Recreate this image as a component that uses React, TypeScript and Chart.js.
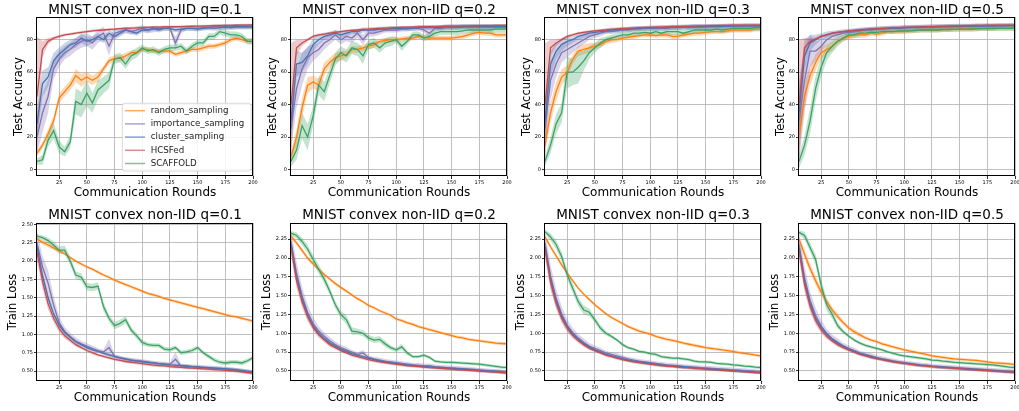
import React, { useEffect, useRef } from "react";
import { Chart, registerables } from "chart.js";

Chart.register(...registerables);
Chart.defaults.font.family = "'DejaVu Sans', 'Liberation Sans', sans-serif";
Chart.defaults.color = "#000";

const ROUNDS = [5, 10, 15, 20, 25, 30, 35, 40, 45, 50, 55, 60, 65, 70, 75, 80, 85, 90, 95, 100, 105, 110, 115, 120, 125, 130, 135, 140, 145, 150, 155, 160, 165, 170, 175, 180, 185, 190, 195, 200];

const SERIES_NAMES = ["random_sampling", "importance_sampling", "cluster_sampling", "HCSFed", "SCAFFOLD"];
const SERIES_COLORS = ["#ff7f0e", "#8172b3", "#4c72b0", "#c44e52", "#3ba363"];

const X_TICKS = [25, 50, 75, 100, 125, 150, 175, 200];
const ACC_TICKS = [0, 20, 40, 60, 80];
const LOSS_TICKS_Q01 = [0.5, 0.75, 1.0, 1.25, 1.5, 1.75, 2.0, 2.25, 2.5];
const LOSS_TICKS = [0.5, 0.75, 1.0, 1.25, 1.5, 1.75, 2.0, 2.25];

// ---------- Test accuracy, q=0.1 ----------
const ACC_Q01_RANDOM = [10, 15, 22, 30, 44, 48, 52, 58, 55, 57, 55, 57, 62, 67, 68.5, 68.5, 70, 72, 72, 74, 74, 73, 73, 73, 73, 71, 72, 73, 74, 74, 75, 76, 76, 77, 78, 80, 81, 80, 79, 79];
const ACC_Q01_IMPORTANCE = [20, 35, 45, 62, 68, 72, 74, 77, 79, 80, 78, 82, 84, 76, 84, 85, 86, 85, 86, 87, 86, 86.5, 87, 87, 87, 78, 86, 87, 87, 87, 87.5, 87.5, 88, 88, 87.5, 88, 88, 88, 88, 88];
const ACC_Q01_CLUSTER = [28, 53, 57, 67, 71, 74, 77, 78, 81, 79, 80, 82, 80, 84, 82, 84, 86, 85, 84, 86, 86, 87, 86, 87, 87, 86, 86.5, 87, 87, 86.5, 87, 87.5, 87, 87.5, 88, 87.5, 88, 88, 88, 88];
const ACC_Q01_HCSFED = [45, 74, 79, 81, 82, 83, 83.5, 84, 84.5, 85, 85.5, 85.8, 86, 86.3, 86.5, 86.8, 87, 87.2, 87.3, 87.5, 87.6, 87.7, 87.8, 87.9, 88, 88, 88.1, 88.2, 88.3, 88.4, 88.4, 88.5, 88.6, 88.7, 88.8, 88.8, 88.9, 89, 89, 89.1];
const ACC_Q01_SCAFFOLD = [5, 6, 18, 24, 14, 11, 17, 42, 40, 47, 41, 49, 52, 55, 68, 69, 65, 70, 72, 75, 73, 74, 72, 74, 75, 75, 76, 73, 76, 78, 78, 82, 82, 85, 84, 83, 83, 82, 79, 79];
const ACC_Q01_RANDOM_SD = [2, 2, 3, 3, 3, 3, 3, 4, 4, 3, 3, 3, 2, 2, 2, 2, 2, 1.5, 1.5, 1.5, 1.5, 1.5, 1.5, 1.5, 1.5, 1.5, 1.5, 1.5, 1.5, 1.5, 1.5, 1.5, 1.5, 1.5, 1.5, 1.5, 1.5, 1.5, 1.5, 1.5];
const ACC_Q01_IMPORTANCE_SD = [10, 12, 10, 6, 5, 4, 4, 4, 4, 4, 4, 4, 4, 6, 3, 2, 2, 2, 2, 2, 2, 2, 1.5, 1.5, 1.5, 4, 2, 1.5, 1.5, 1.5, 1.5, 1.5, 1.5, 1.5, 1.5, 1.5, 1.5, 1.5, 1.5, 1.5];
const ACC_Q01_CLUSTER_SD = [8, 8, 6, 5, 4, 4, 3, 3, 3, 3, 2, 2, 2, 2, 2, 2, 1.5, 1.5, 1.5, 1.5, 1.5, 1.5, 1.5, 1.5, 1.5, 1.5, 1.5, 1.5, 1.5, 1.5, 1.5, 1.5, 1.5, 1.5, 1.5, 1.5, 1.5, 1.5, 1.5, 1.5];
const ACC_Q01_HCSFED_SD = [37, 5, 2, 1, 1, 0.8, 0.8, 0.8, 0.8, 0.8, 0.8, 0.8, 0.8, 0.8, 0.8, 0.8, 0.8, 0.8, 0.8, 0.8, 0.8, 0.8, 0.8, 0.8, 0.8, 0.8, 0.8, 0.8, 0.8, 0.8, 0.8, 0.8, 0.8, 0.8, 0.8, 0.8, 0.8, 0.8, 0.8, 0.8];
const ACC_Q01_SCAFFOLD_SD = [2, 3, 4, 5, 4, 3, 4, 8, 8, 8, 6, 6, 5, 5, 3, 3, 3, 3, 3, 2, 2, 2, 2, 2, 2, 2, 2, 2, 2, 2, 2, 2, 2, 2, 2, 2, 2, 2, 2, 2];

// ---------- Test accuracy, q=0.2 ----------
const ACC_Q02_RANDOM = [8, 20, 38, 52, 54, 52, 62, 66, 69, 70, 71, 74, 74, 75, 76, 77, 79, 79.5, 80, 80, 80.5, 81, 81, 82, 81.5, 81, 81, 81, 81, 81, 81.5, 82, 83, 84, 84.5, 84, 84, 83, 83, 83];
const ACC_Q02_IMPORTANCE = [25, 50, 62, 69, 72, 74, 78, 80, 83, 80, 82, 81, 84, 80, 84, 84, 85, 86, 86, 86, 86.5, 86.5, 87, 87, 86, 84, 87, 87, 87.5, 87.5, 87.5, 88, 88, 88, 88, 88, 88, 88, 88, 88];
const ACC_Q02_CLUSTER = [30, 65, 66, 70, 77, 80, 82, 83, 84, 83, 84, 85, 85, 86, 86, 86, 86.5, 86.5, 87, 87, 87, 87, 87, 87.5, 87.5, 87.5, 87.5, 87.5, 88, 88, 88, 88, 88, 88, 88, 88, 88, 88, 88, 88];
const ACC_Q02_HCSFED = [40, 75, 78, 80, 82, 83, 83.5, 84, 84.5, 85, 85.5, 85.8, 86, 86.3, 86.5, 86.8, 87, 87.2, 87.3, 87.5, 87.6, 87.7, 87.8, 87.9, 88, 88, 88.1, 88.2, 88.3, 88.4, 88.4, 88.5, 88.5, 88.6, 88.6, 88.7, 88.7, 88.8, 88.8, 88.8];
const ACC_Q02_SCAFFOLD = [5, 12, 27, 20, 33, 52, 48, 58, 68, 72, 70, 75, 74, 70, 77, 78, 75, 78, 79, 80, 76, 79, 83, 83, 81, 82, 84, 85, 85, 85, 85, 85.5, 86, 86, 86, 86, 86, 86.5, 86.5, 86.5];
const ACC_Q02_RANDOM_SD = [3, 5, 6, 5, 4, 4, 4, 3, 3, 3, 2, 2, 2, 2, 2, 2, 1.5, 1.5, 1.5, 1.5, 1.5, 1.5, 1.5, 1.5, 1.5, 1.5, 1.5, 1.5, 1.5, 1.5, 1.5, 1.5, 1.5, 1.5, 1.5, 1.5, 1.5, 1.5, 1.5, 1.5];
const ACC_Q02_IMPORTANCE_SD = [12, 12, 10, 7, 5, 4, 4, 3, 3, 3, 3, 3, 3, 3, 2, 2, 2, 1.5, 1.5, 1.5, 1.5, 1.5, 1.5, 1.5, 1.5, 3, 1.5, 1.5, 1.5, 1.5, 1.5, 1.5, 1.5, 1.5, 1.5, 1.5, 1.5, 1.5, 1.5, 1.5];
const ACC_Q02_CLUSTER_SD = [10, 8, 6, 5, 4, 3, 2, 2, 2, 2, 2, 1.5, 1.5, 1.5, 1.5, 1.5, 1.5, 1.5, 1.5, 1.5, 1.5, 1.5, 1.5, 1.5, 1.5, 1.5, 1.5, 1.5, 1.5, 1.5, 1.5, 1.5, 1.5, 1.5, 1.5, 1.5, 1.5, 1.5, 1.5, 1.5];
const ACC_Q02_HCSFED_SD = [38, 5, 2, 1, 1, 0.8, 0.8, 0.8, 0.8, 0.8, 0.8, 0.8, 0.8, 0.8, 0.8, 0.8, 0.8, 0.8, 0.8, 0.8, 0.8, 0.8, 0.8, 0.8, 0.8, 0.8, 0.8, 0.8, 0.8, 0.8, 0.8, 0.8, 0.8, 0.8, 0.8, 0.8, 0.8, 0.8, 0.8, 0.8];
const ACC_Q02_SCAFFOLD_SD = [3, 6, 8, 8, 6, 6, 6, 5, 4, 4, 4, 4, 4, 5, 3, 3, 3, 3, 3, 2, 3, 2, 2, 2, 2, 2, 2, 2, 2, 2, 2, 2, 2, 2, 2, 2, 2, 2, 2, 2];

// ---------- Test accuracy, q=0.3 ----------
const ACC_Q03_RANDOM = [15, 35, 48, 57, 60, 68, 73, 74, 75, 76, 77, 79, 80, 80, 81, 81.5, 82, 82.5, 83, 83, 82.5, 83, 83, 82, 82, 83, 83.5, 84, 84, 84.5, 85, 85, 85, 85.5, 86, 86, 86, 86, 86.5, 86.5];
const ACC_Q03_IMPORTANCE = [25, 55, 65, 72, 74, 76, 78, 80, 82, 83, 84, 85, 85, 85.5, 86, 86, 86.5, 86.5, 87, 87, 87, 87, 87, 87.5, 87.5, 87.5, 87.5, 88, 88, 88, 88, 88, 88, 88.5, 88.5, 88.5, 88.5, 88.5, 88.5, 88.5];
const ACC_Q03_CLUSTER = [30, 65, 73, 77, 79, 80, 82, 83, 84, 84.5, 85, 85.5, 86, 86, 86.5, 86.5, 86.8, 87, 87, 87.2, 87.4, 87.5, 87.6, 87.7, 87.8, 87.9, 88, 88, 88, 88.1, 88.2, 88.2, 88.3, 88.3, 88.4, 88.4, 88.5, 88.5, 88.5, 88.5];
const ACC_Q03_HCSFED = [40, 75, 78, 80, 82, 83, 84, 84.5, 85, 85.5, 85.8, 86, 86.3, 86.6, 86.8, 87, 87.2, 87.4, 87.5, 87.6, 87.7, 87.8, 87.9, 88, 88.1, 88.2, 88.3, 88.4, 88.5, 88.5, 88.6, 88.7, 88.8, 88.8, 88.9, 88.9, 89, 89, 89, 89];
const ACC_Q03_SCAFFOLD = [5, 15, 28, 35, 60, 60, 63, 67, 72, 75, 78, 80, 81, 82, 83, 83, 84, 84, 84.5, 84, 85, 84, 85, 85, 85, 84, 85, 86, 86, 86, 86, 86.5, 86, 86.5, 87, 87, 87, 87, 87.5, 87.5];
const ACC_Q03_RANDOM_SD = [5, 6, 6, 5, 4, 3, 3, 3, 3, 2, 2, 2, 2, 1.5, 1.5, 1.5, 1.5, 1.5, 1.5, 1.5, 1.5, 1.5, 1.5, 1.5, 1.5, 1.5, 1.5, 1.5, 1.5, 1.5, 1.5, 1.5, 1.5, 1.5, 1.5, 1.5, 1.5, 1.5, 1.5, 1.5];
const ACC_Q03_IMPORTANCE_SD = [12, 12, 8, 6, 5, 4, 3, 3, 2, 2, 2, 1.5, 1.5, 1.5, 1.5, 1.5, 1.5, 1.5, 1.5, 1.5, 1.5, 1.5, 1.5, 1.5, 1.5, 1.5, 1.5, 1.5, 1.5, 1.5, 1.5, 1.5, 1.5, 1.5, 1.5, 1.5, 1.5, 1.5, 1.5, 1.5];
const ACC_Q03_CLUSTER_SD = [12, 8, 5, 4, 3, 2, 2, 2, 1.5, 1.5, 1.5, 1.5, 1.5, 1.5, 1.5, 1.5, 1.5, 1.5, 1.5, 1.5, 1.5, 1.5, 1.5, 1.5, 1.5, 1.5, 1.5, 1.5, 1.5, 1.5, 1.5, 1.5, 1.5, 1.5, 1.5, 1.5, 1.5, 1.5, 1.5, 1.5];
const ACC_Q03_HCSFED_SD = [38, 5, 2, 1, 1, 0.8, 0.8, 0.8, 0.8, 0.8, 0.8, 0.8, 0.8, 0.8, 0.8, 0.8, 0.8, 0.8, 0.8, 0.8, 0.8, 0.8, 0.8, 0.8, 0.8, 0.8, 0.8, 0.8, 0.8, 0.8, 0.8, 0.8, 0.8, 0.8, 0.8, 0.8, 0.8, 0.8, 0.8, 0.8];
const ACC_Q03_SCAFFOLD_SD = [3, 5, 6, 6, 10, 8, 10, 6, 4, 3, 3, 2, 2, 2, 2, 2, 2, 2, 2, 2, 2, 2, 2, 2, 2, 2, 2, 2, 2, 2, 2, 2, 2, 2, 2, 2, 2, 2, 2, 2];

// ---------- Test accuracy, q=0.5 ----------
const ACC_Q05_RANDOM = [20, 45, 58, 66, 72, 74, 76, 79, 81, 82, 83, 83, 83, 84, 83.5, 84, 85, 85, 85, 85, 85.5, 85.5, 86, 86, 86, 86, 86.2, 86.3, 86.4, 86.5, 86.5, 86.6, 86.7, 86.8, 86.8, 86.9, 87, 87, 87, 87];
const ACC_Q05_IMPORTANCE = [30, 55, 73, 73, 76, 80, 82, 83, 84, 84.5, 85, 85.5, 86, 86, 86.5, 86.5, 86.8, 87, 87, 87.2, 87.4, 87.5, 87.6, 87.7, 87.8, 87.9, 88, 88, 88, 88.1, 88.2, 88.2, 88.3, 88.3, 88.4, 88.4, 88.5, 88.5, 88.5, 88.5];
const ACC_Q05_CLUSTER = [35, 70, 78, 80, 82, 83, 84, 84.5, 85, 85.3, 85.6, 86, 86.2, 86.5, 86.7, 86.9, 87, 87.2, 87.3, 87.5, 87.6, 87.7, 87.8, 87.9, 88, 88, 88.1, 88.2, 88.3, 88.3, 88.4, 88.4, 88.5, 88.5, 88.6, 88.6, 88.7, 88.7, 88.8, 88.8];
const ACC_Q05_HCSFED = [40, 75, 79, 80.5, 82, 83, 84, 84.5, 85, 85.5, 85.8, 86, 86.3, 86.6, 86.8, 87, 87.2, 87.4, 87.5, 87.6, 87.7, 87.8, 87.9, 88, 88.1, 88.2, 88.3, 88.4, 88.5, 88.5, 88.6, 88.7, 88.8, 88.8, 88.9, 88.9, 89, 89, 89, 89];
const ACC_Q05_SCAFFOLD = [5, 15, 30, 50, 63, 72, 76, 79, 81, 83, 83, 84, 84, 84.5, 84.5, 85, 85, 85, 85.5, 85.5, 85.5, 85.8, 86, 86, 86, 86, 86.2, 86.3, 86.4, 86.5, 86.5, 86.6, 86.7, 86.8, 86.8, 86.9, 87, 87, 87, 87];
const ACC_Q05_RANDOM_SD = [8, 8, 6, 5, 4, 3, 3, 2, 2, 2, 2, 2, 1.5, 1.5, 1.5, 1.5, 1.5, 1.5, 1.5, 1.5, 1.5, 1.5, 1.5, 1.5, 1.5, 1.5, 1.5, 1.5, 1.5, 1.5, 1.5, 1.5, 1.5, 1.5, 1.5, 1.5, 1.5, 1.5, 1.5, 1.5];
const ACC_Q05_IMPORTANCE_SD = [25, 20, 10, 6, 4, 3, 2, 2, 1.5, 1.5, 1.5, 1.5, 1.5, 1.5, 1.5, 1.5, 1.5, 1.5, 1.5, 1.5, 1.5, 1.5, 1.5, 1.5, 1.5, 1.5, 1.5, 1.5, 1.5, 1.5, 1.5, 1.5, 1.5, 1.5, 1.5, 1.5, 1.5, 1.5, 1.5, 1.5];
const ACC_Q05_CLUSTER_SD = [15, 10, 5, 3, 2, 2, 1.5, 1.5, 1.5, 1.5, 1.5, 1.5, 1.5, 1.5, 1.5, 1.5, 1.5, 1.5, 1.5, 1.5, 1.5, 1.5, 1.5, 1.5, 1.5, 1.5, 1.5, 1.5, 1.5, 1.5, 1.5, 1.5, 1.5, 1.5, 1.5, 1.5, 1.5, 1.5, 1.5, 1.5];
const ACC_Q05_HCSFED_SD = [40, 6, 2, 1, 1, 0.8, 0.8, 0.8, 0.8, 0.8, 0.8, 0.8, 0.8, 0.8, 0.8, 0.8, 0.8, 0.8, 0.8, 0.8, 0.8, 0.8, 0.8, 0.8, 0.8, 0.8, 0.8, 0.8, 0.8, 0.8, 0.8, 0.8, 0.8, 0.8, 0.8, 0.8, 0.8, 0.8, 0.8, 0.8];
const ACC_Q05_SCAFFOLD_SD = [4, 6, 8, 8, 6, 5, 4, 3, 2, 2, 2, 1.5, 1.5, 1.5, 1.5, 1.5, 1.5, 1.5, 1.5, 1.5, 1.5, 1.5, 1.5, 1.5, 1.5, 1.5, 1.5, 1.5, 1.5, 1.5, 1.5, 1.5, 1.5, 1.5, 1.5, 1.5, 1.5, 1.5, 1.5, 1.5];

// ---------- Train loss, q=0.1 ----------
const LOSS_Q01_RANDOM = [2.30, 2.26, 2.22, 2.18, 2.14, 2.10, 2.05, 2.00, 1.96, 1.92, 1.89, 1.85, 1.81, 1.78, 1.74, 1.71, 1.68, 1.65, 1.62, 1.59, 1.56, 1.54, 1.52, 1.49, 1.47, 1.45, 1.43, 1.41, 1.39, 1.37, 1.35, 1.33, 1.31, 1.29, 1.27, 1.25, 1.24, 1.22, 1.20, 1.18];
const LOSS_Q01_IMPORTANCE = [2.25, 1.92, 1.70, 1.40, 1.16, 1.04, 0.97, 0.91, 0.87, 0.84, 0.81, 0.78, 0.76, 0.82, 0.70, 0.68, 0.66, 0.65, 0.64, 0.63, 0.62, 0.61, 0.60, 0.595, 0.59, 0.66, 0.57, 0.565, 0.56, 0.555, 0.55, 0.545, 0.54, 0.535, 0.53, 0.52, 0.51, 0.50, 0.49, 0.48];
const LOSS_Q01_CLUSTER = [2.20, 1.80, 1.50, 1.28, 1.13, 1.03, 0.96, 0.90, 0.86, 0.82, 0.79, 0.77, 0.74, 0.72, 0.70, 0.68, 0.665, 0.65, 0.64, 0.63, 0.62, 0.61, 0.60, 0.595, 0.585, 0.58, 0.575, 0.57, 0.56, 0.555, 0.55, 0.545, 0.54, 0.535, 0.53, 0.525, 0.52, 0.51, 0.50, 0.49];
const LOSS_Q01_HCSFED = [2.12, 1.72, 1.42, 1.22, 1.08, 0.98, 0.92, 0.86, 0.82, 0.78, 0.75, 0.72, 0.70, 0.68, 0.66, 0.645, 0.63, 0.62, 0.61, 0.60, 0.59, 0.58, 0.575, 0.57, 0.56, 0.555, 0.55, 0.545, 0.54, 0.535, 0.53, 0.525, 0.52, 0.515, 0.51, 0.505, 0.50, 0.49, 0.48, 0.47];
const LOSS_Q01_SCAFFOLD = [2.34, 2.32, 2.28, 2.22, 2.15, 2.15, 2.00, 1.81, 1.78, 1.65, 1.64, 1.66, 1.38, 1.22, 1.12, 1.15, 1.20, 1.06, 0.98, 0.89, 0.86, 0.85, 0.85, 0.80, 0.79, 0.82, 0.75, 0.76, 0.78, 0.82, 0.75, 0.70, 0.65, 0.62, 0.61, 0.62, 0.62, 0.61, 0.64, 0.68];
const LOSS_Q01_IMPORTANCE_SD = [0.15, 0.15, 0.18, 0.12, 0.08, 0.06, 0.05, 0.05, 0.04, 0.04, 0.04, 0.03, 0.03, 0.12, 0.03, 0.03, 0.03, 0.03, 0.03, 0.03, 0.03, 0.03, 0.03, 0.03, 0.03, 0.10, 0.03, 0.03, 0.03, 0.03, 0.03, 0.03, 0.03, 0.03, 0.03, 0.03, 0.03, 0.03, 0.03, 0.03];
const LOSS_Q01_SCAFFOLD_SD = [0.03, 0.03, 0.04, 0.05, 0.05, 0.06, 0.06, 0.05, 0.05, 0.05, 0.05, 0.05, 0.06, 0.05, 0.05, 0.05, 0.05, 0.04, 0.04, 0.04, 0.03, 0.03, 0.03, 0.03, 0.03, 0.03, 0.03, 0.03, 0.03, 0.03, 0.03, 0.03, 0.03, 0.03, 0.03, 0.03, 0.03, 0.03, 0.03, 0.03];

// ---------- Train loss, q=0.2 ----------
const LOSS_Q02_RANDOM = [2.29, 2.20, 2.10, 2.00, 1.92, 1.85, 1.78, 1.72, 1.66, 1.61, 1.56, 1.51, 1.46, 1.42, 1.37, 1.34, 1.30, 1.27, 1.24, 1.19, 1.17, 1.14, 1.12, 1.09, 1.07, 1.05, 1.03, 1.01, 0.99, 0.97, 0.95, 0.94, 0.92, 0.91, 0.90, 0.89, 0.88, 0.87, 0.865, 0.86];
const LOSS_Q02_IMPORTANCE = [2.22, 1.80, 1.50, 1.28, 1.13, 1.03, 0.96, 0.90, 0.85, 0.81, 0.78, 0.75, 0.72, 0.74, 0.68, 0.66, 0.645, 0.63, 0.62, 0.61, 0.60, 0.59, 0.58, 0.575, 0.57, 0.57, 0.555, 0.55, 0.545, 0.54, 0.535, 0.53, 0.525, 0.52, 0.51, 0.505, 0.50, 0.495, 0.49, 0.48];
const LOSS_Q02_CLUSTER = [2.18, 1.75, 1.46, 1.25, 1.10, 1.00, 0.93, 0.87, 0.83, 0.79, 0.76, 0.73, 0.71, 0.69, 0.67, 0.65, 0.635, 0.62, 0.61, 0.60, 0.59, 0.58, 0.575, 0.565, 0.56, 0.555, 0.55, 0.545, 0.54, 0.535, 0.53, 0.525, 0.52, 0.515, 0.51, 0.505, 0.50, 0.495, 0.49, 0.48];
const LOSS_Q02_HCSFED = [2.15, 1.70, 1.42, 1.22, 1.08, 0.98, 0.91, 0.85, 0.81, 0.77, 0.74, 0.71, 0.69, 0.67, 0.65, 0.635, 0.62, 0.61, 0.60, 0.59, 0.58, 0.57, 0.565, 0.56, 0.55, 0.545, 0.54, 0.535, 0.53, 0.525, 0.52, 0.515, 0.51, 0.505, 0.50, 0.495, 0.49, 0.485, 0.48, 0.475];
const LOSS_Q02_SCAFFOLD = [2.33, 2.30, 2.22, 2.12, 1.98, 1.85, 1.72, 1.56, 1.38, 1.25, 1.18, 1.03, 1.02, 1.00, 0.94, 0.91, 0.92, 0.86, 0.81, 0.78, 0.82, 0.74, 0.69, 0.69, 0.71, 0.68, 0.63, 0.62, 0.615, 0.615, 0.61, 0.605, 0.60, 0.595, 0.59, 0.58, 0.57, 0.56, 0.55, 0.545];
const LOSS_Q02_SCAFFOLD_SD = [0.03, 0.04, 0.05, 0.05, 0.06, 0.06, 0.06, 0.05, 0.05, 0.05, 0.06, 0.05, 0.04, 0.04, 0.04, 0.04, 0.04, 0.04, 0.03, 0.03, 0.04, 0.03, 0.02, 0.02, 0.02, 0.02, 0.02, 0.02, 0.02, 0.02, 0.02, 0.02, 0.02, 0.02, 0.02, 0.02, 0.02, 0.02, 0.02, 0.02];

// ---------- Train loss, q=0.3 ----------
const LOSS_Q03_RANDOM = [2.28, 2.15, 2.03, 1.91, 1.80, 1.70, 1.60, 1.52, 1.45, 1.38, 1.32, 1.26, 1.21, 1.17, 1.13, 1.09, 1.06, 1.03, 1.01, 0.99, 0.96, 0.94, 0.92, 0.905, 0.89, 0.87, 0.855, 0.84, 0.825, 0.81, 0.80, 0.79, 0.78, 0.77, 0.757, 0.745, 0.735, 0.725, 0.712, 0.70];
const LOSS_Q03_IMPORTANCE = [2.20, 1.76, 1.47, 1.26, 1.11, 1.01, 0.94, 0.88, 0.83, 0.80, 0.77, 0.74, 0.72, 0.70, 0.68, 0.66, 0.645, 0.63, 0.62, 0.61, 0.60, 0.59, 0.58, 0.575, 0.57, 0.56, 0.555, 0.55, 0.545, 0.54, 0.535, 0.53, 0.525, 0.52, 0.515, 0.51, 0.505, 0.50, 0.49, 0.485];
const LOSS_Q03_CLUSTER = [2.15, 1.72, 1.44, 1.23, 1.09, 0.99, 0.92, 0.86, 0.82, 0.78, 0.75, 0.72, 0.70, 0.68, 0.66, 0.645, 0.63, 0.62, 0.61, 0.60, 0.59, 0.58, 0.57, 0.565, 0.56, 0.555, 0.55, 0.54, 0.535, 0.53, 0.525, 0.52, 0.515, 0.51, 0.505, 0.50, 0.495, 0.49, 0.485, 0.48];
const LOSS_Q03_HCSFED = [2.12, 1.68, 1.40, 1.20, 1.07, 0.97, 0.90, 0.85, 0.80, 0.77, 0.74, 0.71, 0.69, 0.67, 0.65, 0.635, 0.62, 0.61, 0.60, 0.59, 0.58, 0.57, 0.565, 0.56, 0.55, 0.545, 0.54, 0.535, 0.53, 0.525, 0.52, 0.515, 0.51, 0.505, 0.50, 0.495, 0.49, 0.485, 0.48, 0.475];
const LOSS_Q03_SCAFFOLD = [2.35, 2.28, 2.18, 2.02, 1.78, 1.60, 1.42, 1.31, 1.28, 1.18, 1.07, 1.00, 0.96, 0.91, 0.85, 0.81, 0.79, 0.76, 0.75, 0.73, 0.72, 0.69, 0.68, 0.67, 0.67, 0.66, 0.65, 0.63, 0.62, 0.62, 0.615, 0.60, 0.595, 0.59, 0.58, 0.575, 0.565, 0.56, 0.55, 0.545];
const LOSS_Q03_SCAFFOLD_SD = [0.03, 0.05, 0.06, 0.06, 0.07, 0.06, 0.06, 0.06, 0.05, 0.04, 0.04, 0.03, 0.02, 0.02, 0.02, 0.02, 0.02, 0.02, 0.02, 0.02, 0.02, 0.02, 0.02, 0.02, 0.02, 0.02, 0.02, 0.02, 0.02, 0.02, 0.02, 0.02, 0.02, 0.02, 0.02, 0.02, 0.02, 0.02, 0.02, 0.02];

// ---------- Train loss, q=0.5 ----------
const LOSS_Q05_RANDOM = [2.25, 2.05, 1.86, 1.70, 1.55, 1.42, 1.31, 1.22, 1.14, 1.07, 1.02, 0.98, 0.94, 0.91, 0.89, 0.86, 0.84, 0.82, 0.80, 0.78, 0.765, 0.75, 0.735, 0.72, 0.70, 0.69, 0.68, 0.67, 0.66, 0.655, 0.65, 0.645, 0.64, 0.63, 0.62, 0.61, 0.605, 0.60, 0.595, 0.585];
const LOSS_Q05_IMPORTANCE = [2.18, 1.74, 1.44, 1.24, 1.10, 1.00, 0.93, 0.88, 0.83, 0.80, 0.77, 0.74, 0.72, 0.70, 0.68, 0.665, 0.65, 0.635, 0.62, 0.61, 0.60, 0.59, 0.58, 0.575, 0.565, 0.56, 0.555, 0.55, 0.545, 0.54, 0.535, 0.53, 0.525, 0.52, 0.515, 0.51, 0.505, 0.50, 0.495, 0.49];
const LOSS_Q05_CLUSTER = [2.14, 1.70, 1.40, 1.20, 1.08, 0.99, 0.92, 0.87, 0.83, 0.79, 0.76, 0.73, 0.71, 0.69, 0.67, 0.655, 0.64, 0.625, 0.615, 0.605, 0.595, 0.585, 0.575, 0.57, 0.56, 0.555, 0.55, 0.545, 0.54, 0.535, 0.53, 0.525, 0.52, 0.515, 0.51, 0.505, 0.50, 0.495, 0.49, 0.485];
const LOSS_Q05_HCSFED = [2.10, 1.65, 1.36, 1.17, 1.05, 0.96, 0.90, 0.85, 0.81, 0.78, 0.75, 0.72, 0.70, 0.68, 0.665, 0.65, 0.635, 0.62, 0.61, 0.60, 0.59, 0.58, 0.57, 0.565, 0.56, 0.55, 0.545, 0.54, 0.535, 0.53, 0.525, 0.52, 0.515, 0.51, 0.505, 0.50, 0.495, 0.49, 0.485, 0.48];
const LOSS_Q05_SCAFFOLD = [2.34, 2.30, 2.14, 1.98, 1.64, 1.38, 1.25, 1.10, 1.02, 0.96, 0.91, 0.87, 0.84, 0.82, 0.80, 0.78, 0.755, 0.735, 0.715, 0.70, 0.69, 0.68, 0.67, 0.66, 0.645, 0.64, 0.63, 0.625, 0.615, 0.61, 0.605, 0.60, 0.595, 0.59, 0.585, 0.58, 0.57, 0.56, 0.55, 0.545];
const LOSS_Q05_RANDOM_SD = [0.05, 0.06, 0.06, 0.06, 0.05, 0.05, 0.04, 0.04, 0.03, 0.03, 0.03, 0.03, 0.02, 0.02, 0.02, 0.02, 0.02, 0.02, 0.02, 0.02, 0.02, 0.02, 0.02, 0.02, 0.02, 0.02, 0.02, 0.02, 0.02, 0.02, 0.02, 0.02, 0.02, 0.02, 0.02, 0.02, 0.02, 0.02, 0.02, 0.02];
const LOSS_Q05_SCAFFOLD_SD = [0.03, 0.05, 0.06, 0.07, 0.08, 0.08, 0.06, 0.04, 0.03, 0.02, 0.02, 0.02, 0.02, 0.02, 0.02, 0.02, 0.02, 0.02, 0.02, 0.02, 0.02, 0.02, 0.02, 0.02, 0.02, 0.02, 0.02, 0.02, 0.02, 0.02, 0.02, 0.02, 0.02, 0.02, 0.02, 0.02, 0.02, 0.02, 0.02, 0.02];

// shared loss spreads
const LOSS_RANDOM_SD = [0.03, 0.03, 0.03, 0.03, 0.02, 0.02, 0.02, 0.02, 0.02, 0.02, 0.02, 0.02, 0.02, 0.02, 0.02, 0.02, 0.02, 0.02, 0.02, 0.02, 0.02, 0.02, 0.02, 0.02, 0.02, 0.02, 0.02, 0.02, 0.02, 0.02, 0.02, 0.02, 0.02, 0.02, 0.02, 0.02, 0.02, 0.02, 0.02, 0.02];
const LOSS_IMPORTANCE_SD = [0.15, 0.15, 0.12, 0.10, 0.08, 0.06, 0.05, 0.05, 0.04, 0.04, 0.04, 0.03, 0.03, 0.04, 0.03, 0.03, 0.03, 0.03, 0.03, 0.03, 0.03, 0.03, 0.03, 0.03, 0.03, 0.03, 0.03, 0.03, 0.03, 0.03, 0.03, 0.03, 0.03, 0.03, 0.03, 0.03, 0.03, 0.03, 0.03, 0.03];
const LOSS_CLUSTER_SD = [0.06, 0.05, 0.04, 0.03, 0.03, 0.02, 0.02, 0.02, 0.02, 0.02, 0.02, 0.02, 0.02, 0.02, 0.02, 0.02, 0.02, 0.02, 0.02, 0.02, 0.02, 0.02, 0.02, 0.02, 0.02, 0.02, 0.02, 0.02, 0.02, 0.02, 0.02, 0.02, 0.02, 0.02, 0.02, 0.02, 0.02, 0.02, 0.02, 0.02];
const LOSS_HCSFED_SD = [0.12, 0.10, 0.08, 0.06, 0.05, 0.04, 0.03, 0.03, 0.02, 0.02, 0.02, 0.02, 0.02, 0.02, 0.02, 0.02, 0.02, 0.02, 0.02, 0.02, 0.02, 0.02, 0.02, 0.02, 0.02, 0.02, 0.02, 0.02, 0.02, 0.02, 0.02, 0.02, 0.02, 0.02, 0.02, 0.02, 0.02, 0.02, 0.02, 0.02];

type PanelDef = {
  title: string;
  yTitle: string;
  values: number[][];
  spreads: number[][];
  yMin: number;
  yMax: number;
  yTicks: number[];
  decimals: number;
  legend: boolean;
};

const PANELS: PanelDef[] = [
  { title: "MNIST convex non-IID q=0.1", yTitle: "Test Accuracy", values: [ACC_Q01_RANDOM, ACC_Q01_IMPORTANCE, ACC_Q01_CLUSTER, ACC_Q01_HCSFED, ACC_Q01_SCAFFOLD], spreads: [ACC_Q01_RANDOM_SD, ACC_Q01_IMPORTANCE_SD, ACC_Q01_CLUSTER_SD, ACC_Q01_HCSFED_SD, ACC_Q01_SCAFFOLD_SD], yMin: -4, yMax: 94, yTicks: ACC_TICKS, decimals: 0, legend: true },
  { title: "MNIST convex non-IID q=0.2", yTitle: "Test Accuracy", values: [ACC_Q02_RANDOM, ACC_Q02_IMPORTANCE, ACC_Q02_CLUSTER, ACC_Q02_HCSFED, ACC_Q02_SCAFFOLD], spreads: [ACC_Q02_RANDOM_SD, ACC_Q02_IMPORTANCE_SD, ACC_Q02_CLUSTER_SD, ACC_Q02_HCSFED_SD, ACC_Q02_SCAFFOLD_SD], yMin: -4, yMax: 94, yTicks: ACC_TICKS, decimals: 0, legend: false },
  { title: "MNIST convex non-IID q=0.3", yTitle: "Test Accuracy", values: [ACC_Q03_RANDOM, ACC_Q03_IMPORTANCE, ACC_Q03_CLUSTER, ACC_Q03_HCSFED, ACC_Q03_SCAFFOLD], spreads: [ACC_Q03_RANDOM_SD, ACC_Q03_IMPORTANCE_SD, ACC_Q03_CLUSTER_SD, ACC_Q03_HCSFED_SD, ACC_Q03_SCAFFOLD_SD], yMin: -4, yMax: 94, yTicks: ACC_TICKS, decimals: 0, legend: false },
  { title: "MNIST convex non-IID q=0.5", yTitle: "Test Accuracy", values: [ACC_Q05_RANDOM, ACC_Q05_IMPORTANCE, ACC_Q05_CLUSTER, ACC_Q05_HCSFED, ACC_Q05_SCAFFOLD], spreads: [ACC_Q05_RANDOM_SD, ACC_Q05_IMPORTANCE_SD, ACC_Q05_CLUSTER_SD, ACC_Q05_HCSFED_SD, ACC_Q05_SCAFFOLD_SD], yMin: -4, yMax: 94, yTicks: ACC_TICKS, decimals: 0, legend: false },
  { title: "MNIST convex non-IID q=0.1", yTitle: "Train Loss", values: [LOSS_Q01_RANDOM, LOSS_Q01_IMPORTANCE, LOSS_Q01_CLUSTER, LOSS_Q01_HCSFED, LOSS_Q01_SCAFFOLD], spreads: [LOSS_RANDOM_SD, LOSS_Q01_IMPORTANCE_SD, LOSS_CLUSTER_SD, LOSS_HCSFED_SD, LOSS_Q01_SCAFFOLD_SD], yMin: 0.364, yMax: 2.52, yTicks: LOSS_TICKS_Q01, decimals: 2, legend: false },
  { title: "MNIST convex non-IID q=0.2", yTitle: "Train Loss", values: [LOSS_Q02_RANDOM, LOSS_Q02_IMPORTANCE, LOSS_Q02_CLUSTER, LOSS_Q02_HCSFED, LOSS_Q02_SCAFFOLD], spreads: [LOSS_RANDOM_SD, LOSS_IMPORTANCE_SD, LOSS_CLUSTER_SD, LOSS_HCSFED_SD, LOSS_Q02_SCAFFOLD_SD], yMin: 0.367, yMax: 2.465, yTicks: LOSS_TICKS, decimals: 2, legend: false },
  { title: "MNIST convex non-IID q=0.3", yTitle: "Train Loss", values: [LOSS_Q03_RANDOM, LOSS_Q03_IMPORTANCE, LOSS_Q03_CLUSTER, LOSS_Q03_HCSFED, LOSS_Q03_SCAFFOLD], spreads: [LOSS_RANDOM_SD, LOSS_IMPORTANCE_SD, LOSS_CLUSTER_SD, LOSS_HCSFED_SD, LOSS_Q03_SCAFFOLD_SD], yMin: 0.367, yMax: 2.465, yTicks: LOSS_TICKS, decimals: 2, legend: false },
  { title: "MNIST convex non-IID q=0.5", yTitle: "Train Loss", values: [LOSS_Q05_RANDOM, LOSS_Q05_IMPORTANCE, LOSS_Q05_CLUSTER, LOSS_Q05_HCSFED, LOSS_Q05_SCAFFOLD], spreads: [LOSS_Q05_RANDOM_SD, LOSS_IMPORTANCE_SD, LOSS_CLUSTER_SD, LOSS_HCSFED_SD, LOSS_Q05_SCAFFOLD_SD], yMin: 0.367, yMax: 2.465, yTicks: LOSS_TICKS, decimals: 2, legend: false },
];

function rgba(hex: string, a: number) {
  const r = parseInt(hex.slice(1, 3), 16);
  const g = parseInt(hex.slice(3, 5), 16);
  const b = parseInt(hex.slice(5, 7), 16);
  return `rgba(${r},${g},${b},${a})`;
}

const framePlugin = {
  id: "frame",
  afterDatasetsDraw(chart: any) {
    const { ctx, chartArea: a } = chart;
    ctx.save();
    ctx.strokeStyle = "#000";
    ctx.lineWidth = 1;
    const l = Math.round(a.left) - 0.5;
    const t = Math.round(a.top) + 0.5;
    const r = Math.round(a.right) - 0.5;
    const b = Math.round(a.bottom) - 0.5;
    ctx.strokeRect(l, t, r - l, b - t);
    ctx.restore();
  },
};

const legendPlugin = {
  id: "panelLegend",
  afterDraw(chart: any) {
    const { ctx, chartArea: a } = chart;
    const w = 128.7;
    const h = 67.7;
    const x0 = a.right - 2 - w;
    const y0 = a.bottom - 5 - h;
    ctx.save();
    ctx.beginPath();
    const rad = 2.5;
    ctx.moveTo(x0 + rad, y0);
    ctx.lineTo(x0 + w - rad, y0);
    ctx.quadraticCurveTo(x0 + w, y0, x0 + w, y0 + rad);
    ctx.lineTo(x0 + w, y0 + h - rad);
    ctx.quadraticCurveTo(x0 + w, y0 + h, x0 + w - rad, y0 + h);
    ctx.lineTo(x0 + rad, y0 + h);
    ctx.quadraticCurveTo(x0, y0 + h, x0, y0 + h - rad);
    ctx.lineTo(x0, y0 + rad);
    ctx.quadraticCurveTo(x0, y0, x0 + rad, y0);
    ctx.closePath();
    ctx.fillStyle = "rgba(255,255,255,0.85)";
    ctx.fill();
    ctx.strokeStyle = "#d0d0d0";
    ctx.lineWidth = 0.8;
    ctx.stroke();
    ctx.font = "8.7px 'DejaVu Sans', sans-serif";
    ctx.textBaseline = "middle";
    ctx.textAlign = "left";
    SERIES_NAMES.forEach((name, i) => {
      const y = y0 + 7.4 + i * 13.2;
      ctx.strokeStyle = rgba(SERIES_COLORS[i], 0.65);
      ctx.lineWidth = 1.5;
      ctx.beginPath();
      ctx.moveTo(x0 + 2.7, y);
      ctx.lineTo(x0 + 22.7, y);
      ctx.stroke();
      ctx.fillStyle = "#222";
      ctx.fillText(name, x0 + 28.4, y);
    });
    ctx.restore();
  },
};

function Panel({ def, index }: { def: PanelDef; index: number }) {
  const ref = useRef<HTMLCanvasElement>(null);
  const col = index % 4;
  const row = Math.floor(index / 4);
  const left = col * 254;
  const width = col === 3 ? 1019 - left : 259;
  const top = row === 0 ? 0 : 205;
  const height = row === 0 ? 205 : 206;
  const padRight = width - 253;

  useEffect(() => {
    const canvas = ref.current;
    if (!canvas) return;
    const datasets: any[] = [];
    def.values.forEach((vals, i) => {
      const sd = def.spreads[i];
      const color = SERIES_COLORS[i];
      datasets.push({
        label: SERIES_NAMES[i] + " upper",
        data: ROUNDS.map((x, k) => ({ x, y: vals[k] + sd[k] })),
        borderWidth: 0,
        borderColor: "rgba(0,0,0,0)",
        backgroundColor: rgba(color, 0.3),
        pointRadius: 0,
        fill: "+1",
        tension: 0,
        order: 30 - i,
      });
      datasets.push({
        label: SERIES_NAMES[i] + " lower",
        data: ROUNDS.map((x, k) => ({ x, y: vals[k] - sd[k] })),
        borderWidth: 0,
        borderColor: "rgba(0,0,0,0)",
        backgroundColor: "rgba(0,0,0,0)",
        pointRadius: 0,
        fill: false,
        tension: 0,
        order: 30 - i,
      });
    });
    def.values.forEach((vals, i) => {
      datasets.push({
        label: SERIES_NAMES[i],
        data: ROUNDS.map((x, k) => ({ x, y: vals[k] })),
        borderColor: SERIES_COLORS[i],
        backgroundColor: SERIES_COLORS[i],
        borderWidth: 1.3,
        pointRadius: 0,
        fill: false,
        tension: 0,
        order: 10 - i,
      });
    });

    const plugins: any[] = [framePlugin];
    if (def.legend) plugins.push(legendPlugin);

    const chart = new Chart(canvas, {
      type: "line",
      data: { datasets },
      plugins,
      options: {
        responsive: false,
        animation: false,
        devicePixelRatio: 1,
        events: [],
        layout: { padding: { left: 0, right: padRight, top: 0, bottom: 0 } },
        plugins: {
          legend: { display: false },
          tooltip: { enabled: false },
          title: {
            display: true,
            text: def.title,
            fullSize: false,
            color: "#000",
            font: { size: 13.5, weight: "normal", lineHeight: 1 },
            padding: { top: 3.5, bottom: row === 0 ? 0 : 1 },
          },
        },
        scales: {
          x: {
            type: "linear",
            min: 5,
            max: 200,
            afterBuildTicks: (s: any) => {
              s.ticks = X_TICKS.map((v) => ({ value: v }));
            },
            afterFit: (s: any) => {
              s.height = row === 0 ? 29 : 30;
              s.paddingLeft = 0;
              s.paddingRight = 0;
            },
            ticks: {
              font: { size: 5 },
              color: "#000",
              padding: 1,
              maxRotation: 0,
              minRotation: 0,
              autoSkip: false,
              callback: (v: any) => String(v),
            },
            grid: { color: "#b0b0b0", lineWidth: 0.8, tickLength: 3, tickColor: "#000", tickWidth: 0.8 },
            border: { display: false },
            title: {
              display: true,
              text: "Communication Rounds",
              color: "#000",
              font: { size: 12, lineHeight: 1.2 },
              padding: { top: 0, bottom: row === 0 ? 4.8 : 6.1 },
            },
          },
          y: {
            type: "linear",
            min: def.yMin,
            max: def.yMax,
            afterBuildTicks: (s: any) => {
              s.ticks = def.yTicks.map((v) => ({ value: v }));
            },
            afterFit: (s: any) => {
              s.width = 37;
              s.paddingTop = 0;
              s.paddingBottom = 0;
            },
            ticks: {
              font: { size: 5 },
              color: "#000",
              padding: 1,
              autoSkip: false,
              callback: (v: any) => Number(v).toFixed(def.decimals),
            },
            grid: { color: "#b0b0b0", lineWidth: 0.8, tickLength: 3, tickColor: "#000", tickWidth: 0.8 },
            border: { display: false },
            title: {
              display: true,
              text: def.yTitle,
              color: "#000",
              font: { size: 11.5, lineHeight: 1.2 },
              padding: { top: def.decimals === 0 ? 12 : 6.6, bottom: 0 },
            },
          },
        },
      } as any,
    });
    return () => chart.destroy();
  }, []);

  return (
    <canvas
      ref={ref}
      width={width}
      height={height}
      style={{ position: "absolute", left, top, width, height }}
    />
  );
}

export default function App() {
  return (
    <div style={{ position: "absolute", left: 0, top: 0, width: 1019, height: 411, background: "#fff", overflow: "hidden" }}>
      {PANELS.map((p, i) => (
        <Panel key={i} def={p} index={i} />
      ))}
    </div>
  );
}
